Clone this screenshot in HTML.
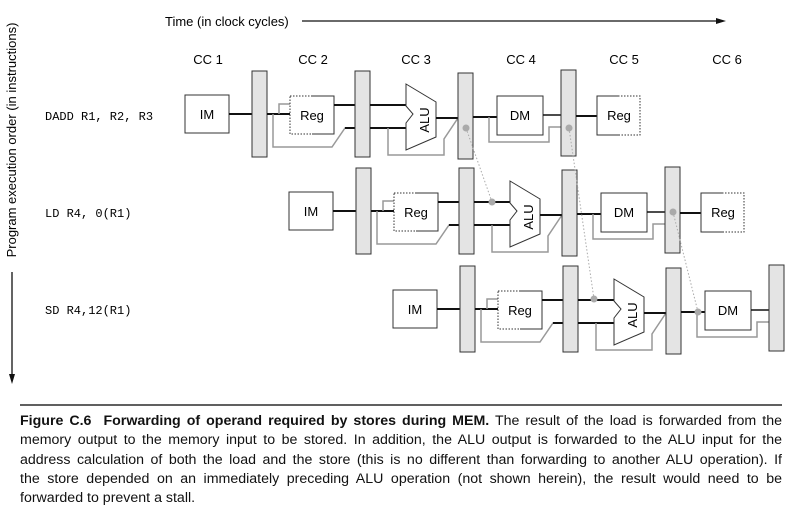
<!DOCTYPE html>
<html><head><meta charset="utf-8"><style>
body{margin:0;background:#fff;width:793px;height:516px;overflow:hidden;position:relative;font-family:"Liberation Sans",sans-serif;}
.cap{position:absolute;left:20px;top:412px;width:762px;font-size:14.2px;line-height:19.3px;color:#111;}
.cap div{text-align:justify;text-align-last:justify;white-space:nowrap;}
.cap div.l{text-align-last:left;}
</style></head><body>
<svg width="793" height="516" style="position:absolute;left:0;top:0" font-family="Liberation Sans, sans-serif">
<defs>
<g id="st">
 <rect x="185" y="95" width="44" height="38" fill="#fff" stroke="#333"/>
 <text x="207" y="119" font-size="13" text-anchor="middle">IM</text>
 <line x1="229" y1="114" x2="252" y2="114" stroke="#111" stroke-width="2"/>
 <rect x="252" y="71" width="15" height="86" fill="#e4e4e4" stroke="#333"/>
 <polyline points="267,114 290,114" stroke="#111" stroke-width="2" fill="none"/>
 <polyline points="279,114 279,104 290,104" stroke="#999" stroke-width="1.5" fill="none"/>
 <polyline points="273,114 273,147 332,147 345,128 355,128" stroke="#999" stroke-width="1.5" fill="none"/>
 <line x1="345" y1="128" x2="355" y2="128" stroke="#111" stroke-width="2"/>
 <rect x="290" y="96" width="44" height="38" fill="#fff" stroke="#333" stroke-dasharray="1.5,1.5"/>
 <polyline points="312,96 334,96 334,134 312,134" fill="none" stroke="#333"/>
 <text x="312" y="120" font-size="13" text-anchor="middle">Reg</text>
 <line x1="334" y1="105" x2="355" y2="105" stroke="#111" stroke-width="2"/>
 <rect x="355" y="71" width="15" height="86" fill="#e4e4e4" stroke="#333"/>
 <line x1="370" y1="105" x2="406" y2="105" stroke="#111" stroke-width="2"/>
 <line x1="370" y1="128" x2="406" y2="128" stroke="#111" stroke-width="2"/>
 <polyline points="388,128 388,155 444,155 444,139 458,118" stroke="#999" stroke-width="1.5" fill="none"/>
 <polygon points="406,84 436,102 436,137 406,150 406,123 413,114 406,106" fill="#fff" stroke="#333"/>
 <text x="0" y="0" font-size="13" text-anchor="middle" transform="translate(429,120) rotate(-90)">ALU</text>
 <line x1="436" y1="118" x2="458" y2="118" stroke="#111" stroke-width="2"/>
 <rect x="458" y="73" width="15" height="86" fill="#e4e4e4" stroke="#333"/>
 <line x1="473" y1="117" x2="497" y2="117" stroke="#111" stroke-width="2"/>
 <polyline points="489,117 489,142 549,142 549,127 561,127" stroke="#999" stroke-width="1.5" fill="none"/>
 <rect x="497" y="96" width="46" height="39" fill="#fff" stroke="#333"/>
 <text x="520" y="120" font-size="13" text-anchor="middle">DM</text>
 <line x1="543" y1="115" x2="561" y2="115" stroke="#111" stroke-width="1.5"/>
 <rect x="561" y="70" width="15" height="86" fill="#e4e4e4" stroke="#333"/>
</g>
<g id="wb">
 <line x1="576" y1="116" x2="597" y2="116" stroke="#111" stroke-width="2"/>
 <rect x="597" y="96" width="43" height="39" fill="#fff" stroke="#333" stroke-dasharray="1.5,1.5"/>
 <polyline points="619,96 597,96 597,135 619,135" fill="none" stroke="#333"/>
 <text x="619" y="120" font-size="13" text-anchor="middle">Reg</text>
</g>
</defs>
<text x="165" y="26" font-size="13">Time (in clock cycles)</text>
<line x1="302" y1="21" x2="720" y2="21" stroke="#111" stroke-width="1.3"/>
<polygon points="726,21 716,18 716,24" fill="#111"/>
<g font-size="13" text-anchor="middle">
<text x="208" y="64">CC 1</text><text x="313" y="64">CC 2</text><text x="416" y="64">CC 3</text>
<text x="521" y="64">CC 4</text><text x="624" y="64">CC 5</text><text x="727" y="64">CC 6</text>
</g>
<text transform="translate(16,140) rotate(-90)" font-size="13" text-anchor="middle">Program execution order (in instructions)</text>
<line x1="12" y1="272" x2="12" y2="378" stroke="#111" stroke-width="1.3"/>
<polygon points="12,384 9,374 15,374" fill="#111"/>
<g font-family="Liberation Mono, monospace" font-size="12">
<text x="45" y="120">DADD R1, R2, R3</text>
<text x="45" y="217">LD R4, 0(R1)</text>
<text x="45" y="314">SD R4,12(R1)</text>
</g>
<use href="#st"/><use href="#wb"/>
<use href="#st" transform="translate(104,97)"/><use href="#wb" transform="translate(104,97)"/>
<use href="#st" transform="translate(208,195)"/>
<g stroke="#aaa" stroke-width="1" stroke-dasharray="1.5,2">
<line x1="466" y1="128" x2="492" y2="202"/>
<line x1="569" y1="128" x2="594" y2="299"/>
<line x1="673" y1="212" x2="698" y2="312"/>
</g>
<g fill="#aaa">
<circle cx="466" cy="128" r="3.5"/><circle cx="569" cy="128" r="3.5"/>
<circle cx="492" cy="202" r="3.5"/><circle cx="673" cy="212" r="3.5"/>
<circle cx="594" cy="299" r="3.5"/><circle cx="698" cy="312" r="3.5"/>
</g>
<line x1="20" y1="405" x2="782" y2="405" stroke="#000" stroke-width="1.2"/>
</svg>
<div class="cap">
<div><b>Figure C.6 &nbsp;Forwarding of operand required by stores during MEM.</b> The result of the load is forwarded from the</div>
<div>memory output to the memory input to be stored. In addition, the ALU output is forwarded to the ALU input for the</div>
<div>address calculation of both the load and the store (this is no different than forwarding to another ALU operation). If</div>
<div>the store depended on an immediately preceding ALU operation (not shown herein), the result would need to be</div>
<div class="l">forwarded to prevent a stall.</div>
</div>
</body></html>
